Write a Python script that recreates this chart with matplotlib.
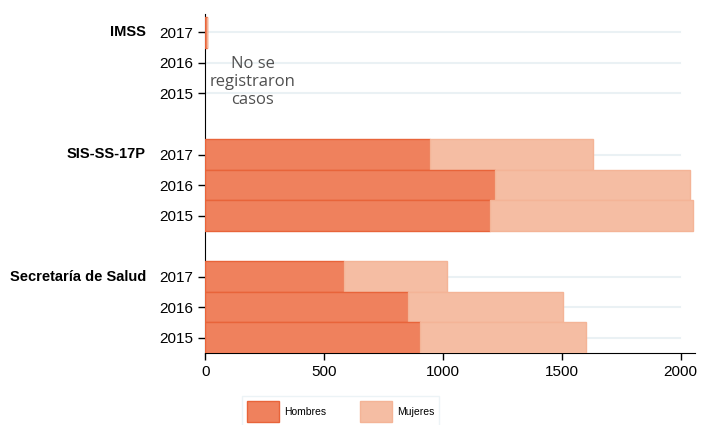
import matplotlib.pyplot as plt
from matplotlib.patches import Patch

plt.rcParams['font.family'] = ['Liberation Sans', 'DejaVu Sans']

groups = ['IMSS', 'SIS-SS-17P', 'Secretaría de Salud']
years = ['2017', '2016', '2015']
hombres = [[7, 0, 0], [945, 1218, 1197], [584, 853, 902]]
mujeres = [[1, 0, 0], [685, 820, 853], [431, 650, 701]]

c_h, e_h = '#ef815d', '#e8643a'
c_m, e_m = '#f5bda3', '#f4b497'

fig = plt.figure(figsize=(7.01, 4.25), dpi=100)
ax = fig.add_axes([0.2924, 0.1694, 0.6990, 0.7976])

pos, labels = [], []
for gi, g in enumerate(groups):
    for yi, yr in enumerate(years):
        p = gi * 4 + yi
        pos.append(p)
        labels.append(yr)
        h = hombres[gi][yi]
        m = mujeres[gi][yi]
        if h + m == 0:
            continue
        ax.barh(p, h, height=1.0, color=c_h, edgecolor=e_h, linewidth=1, zorder=3)
        ax.barh(p, m, left=h, height=1.0, color=c_m, edgecolor=e_m, linewidth=1, zorder=3)
    fig.text(0.208, 1 - (32 + gi * 4 * 30.6) / 425, g, ha='right', va='center',
             fontsize=10.5, fontweight='bold')

ax.set_yticks(pos)
ax.set_yticklabels(labels)
ax.set_ylim(10.5, -0.6)
ax.set_xlim(-2, 2060)
ax.set_xticks([0, 500, 1000, 1500, 2000])
ax.tick_params(axis='both', labelsize=11, length=5, width=1)
for y in pos:
    ax.axhline(y, xmax=0.97, color='#eaf1f4', linewidth=1.5, zorder=1)
for s in ['top', 'right']:
    ax.spines[s].set_visible(False)

ax.text(200, 1.63, 'No se\nregistraron\ncasos', ha='center', va='center',
        multialignment='center', fontsize=12, color='#505050',
        family='Open Sans', linespacing=1.15)

handles = [Patch(facecolor=c_h, edgecolor=e_h, label='Hombres'),
           Patch(facecolor=c_m, edgecolor=e_m, label='Mujeres')]
leg = fig.legend(handles=handles, loc='upper left', bbox_to_anchor=(0.338, 0.08),
                 ncol=2, fontsize=7.5, handlelength=3.0, handleheight=2.6,
                 frameon=True, fancybox=False, edgecolor='#e8f0f4', borderpad=0.5,
                 handletextpad=0.5, columnspacing=3.3)

fig.savefig('out.png', dpi=100)
